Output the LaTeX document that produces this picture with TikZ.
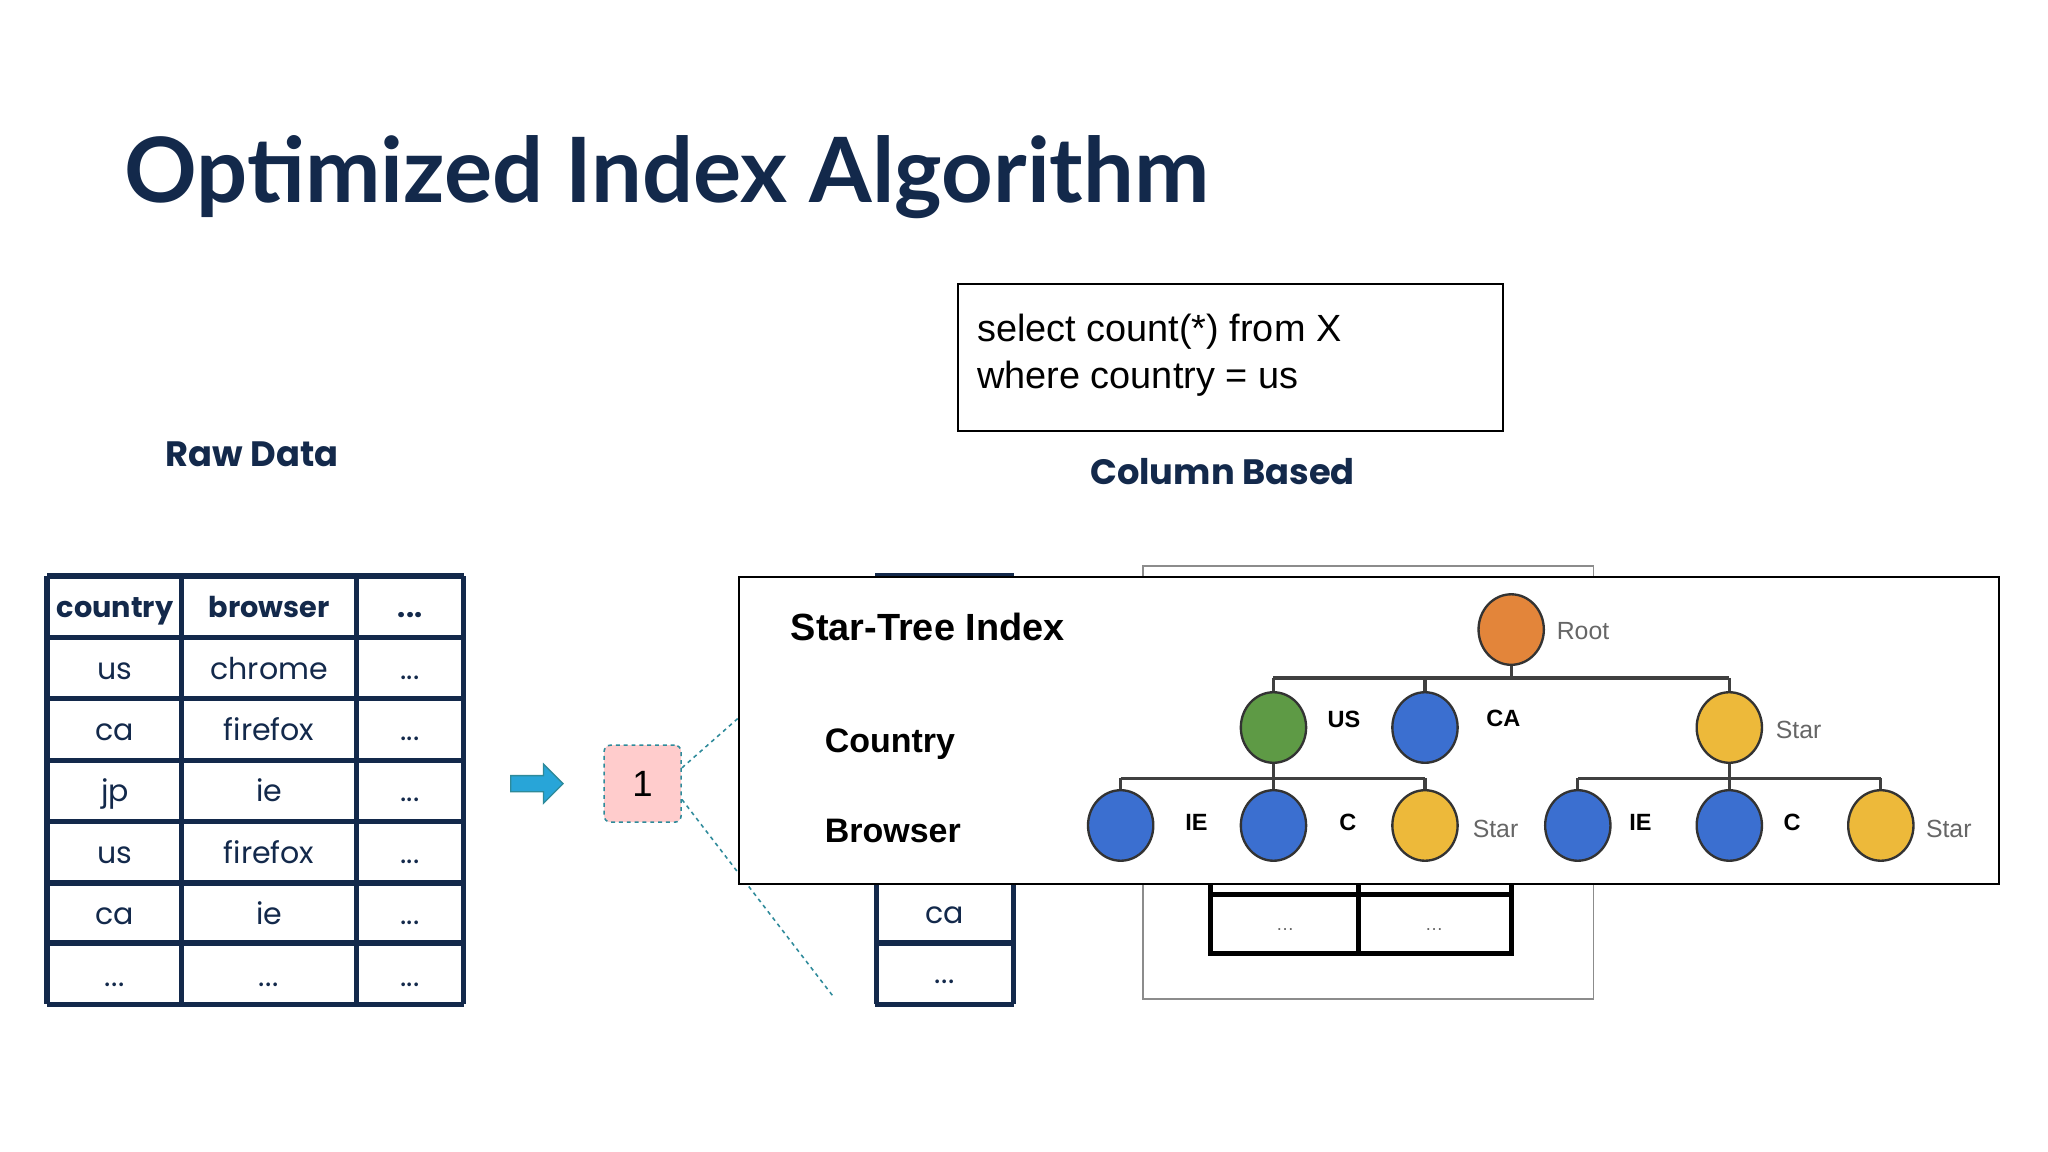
\documentclass[tikz,border=0pt]{standalone}
\usepackage{fontspec}
\setmainfont{Poppins}
\newfontfamily\latof{Lato}
\newfontfamily\arialf{Liberation Sans}
\usetikzlibrary{arrows.meta,shapes.arrows,shapes.geometric}
\definecolor{navy}{HTML}{13294B}
\definecolor{teal}{HTML}{2E8A9A}
\definecolor{torange}{HTML}{E3853A}
\definecolor{tgreen}{HTML}{5E9A45}
\definecolor{tblue}{HTML}{3B6FD0}
\definecolor{tyellow}{HTML}{EDB93A}
\newcommand{\dd}{.\kern0.5pt.\kern0.5pt.}
\begin{document}
\begin{tikzpicture}[x=1pt,y=-1pt,
 cell/.style={font=\fontsize{23}{23}\selectfont,text=navy,anchor=base},
 head/.style={font=\bfseries\fontsize{22}{22}\selectfont,text=navy,anchor=base},
 tnode/.style={ellipse,draw=black!80,line width=1.8pt,minimum width=50pt,minimum height=54pt,inner sep=0},
 tlab/.style={font=\arialf\bfseries\fontsize{18}{18}\selectfont,anchor=center},
 glab/.style={font=\arialf\fontsize{19}{19}\selectfont,text=black!60,anchor=center},
 lvl/.style={font=\arialf\bfseries\fontsize{26}{26}\selectfont,anchor=west},
 bar/.style={line width=2.5pt,black!75}]
\useasboundingbox (0,0) rectangle (1568,882);
\node[anchor=base west,inner sep=0,font=\latof\bfseries\fontsize{69}{69}\selectfont,text=navy] (title) at (95,155) {Optimized Index Algorithm};
\node[font=\bfseries\fontsize{27}{27}\selectfont,text=navy] (raw) at (193,348) {Raw Data};
% raw table
\foreach \y in {441,488,535,582,629,676,722,769} \draw[navy,line width=4pt] (36,\y) -- (355,\y);
\foreach \x in {36,139,273,355} \draw[navy,line width=4pt] (\x,441) -- (\x,769);
\node[head] (h1) at (88,473) {country};
\node[head] (h2) at (206,473) {browser};
\node[head] (h3) at (314,473) {\dd};
\foreach \a/\b [count=\i] in {us/chrome,ca/firefox,jp/ie,us/firefox,ca/ie,\dd/\dd}{
 \pgfmathsetmacro\yy{520+47*(\i-1)}
 \node[cell] (r\i a) at (88,\yy) {\a};
 \node[cell] (r\i b) at (206,\yy) {\b};
 \node[cell] (r\i c) at (314,\yy) {\dd};
}
\node[single arrow,fill=cyan!70!teal,draw=teal,line width=1pt,minimum height=40pt,minimum width=30pt,single arrow head extend=5pt,inner sep=3pt] (arr) at (408,600) {};
\node[draw=teal,dashed,line width=1.2pt,fill=red!20!white,rounded corners=5pt,minimum width=59pt,minimum height=59pt,font=\arialf\fontsize{28}{28}\selectfont] (one) at (492,600) {1};
\coordinate (d1) at (565,550);
\coordinate (d2) at (638,763);
\draw[teal,dashed,line width=1.2pt] (one.north east) ++(0,18) -- (d1);
\draw[teal,dashed,line width=1.2pt] (one.south east) ++(0,-18) -- (d2);
% column table behind
\draw[navy,line width=4pt] (670,441) -- (776,441);
\draw[navy,line width=4pt] (671,676) -- (671,769) (776,676) -- (776,769) (670,722) -- (776,722) (670,769) -- (776,769);
\node[cell] (cca) at (723,707) {ca};
\node[cell] (cdots) at (723,753) {\dd};
\draw[black!45,line width=1.5pt] (875,441) -- (875,765) -- (1220,765) -- (1220,441);
\draw[black!45,line width=1.5pt] (875,441) -- (875,433) -- (1220,433) -- (1220,441);
\draw[black,line width=4pt] (927,685) -- (1157,685) (927,676) -- (927,730) -- (1157,730) -- (1157,676) (1040,676) -- (1040,730);
\node[font=\arialf\fontsize{14}{14}\selectfont,text=black!60] (e1) at (984,712) {\dd};
\node[font=\arialf\fontsize{14}{14}\selectfont,text=black!60] (e2) at (1098,712) {\dd};
% query
\node[draw=black,line width=1.5pt,minimum width=417pt,minimum height=112pt,anchor=north west] (q) at (733,217) {};
\node[anchor=north west,align=left,font=\arialf\fontsize{29}{36}\selectfont,inner sep=0] (qt) at (748,240) {select count(*) from X\\where country = us};
\node[font=\bfseries\fontsize{27}{27}\selectfont,text=navy] (colb) at (936,361) {Column Based};
% star tree box
\node[draw=black,line width=1.5pt,fill=white,minimum width=965pt,minimum height=235pt,anchor=north west] (st) at (565,441) {};
\node[anchor=west,font=\arialf\bfseries\fontsize{29}{29}\selectfont] (stt) at (602,480) {Star-Tree Index};
\node[lvl] (lc) at (628,570) {Country};
\node[lvl] (lb) at (628,636) {Browser};
\draw[bar] (1157,482) -- (1157,519) (975,519) -- (1324,519) (975,519) -- (975,557) (1091,519) -- (1091,557) (1324,519) -- (1324,557);
\draw[bar] (858,596) -- (1091,596) (858,596) -- (858,632) (975,557) -- (975,632) (1091,596) -- (1091,632);
\draw[bar] (1208,596) -- (1440,596) (1208,596) -- (1208,632) (1324,557) -- (1324,632) (1440,596) -- (1440,632);
\node[tnode,fill=torange] (root) at (1157,482) {};
\node[tnode,fill=tgreen] (us) at (975,557) {};
\node[tnode,fill=tblue] (ca) at (1091,557) {};
\node[tnode,fill=tyellow] (cs) at (1324,557) {};
\node[tnode,fill=tblue] (b1) at (858,632) {};
\node[tnode,fill=tblue] (b2) at (975,632) {};
\node[tnode,fill=tyellow] (b3) at (1091,632) {};
\node[tnode,fill=tblue] (b4) at (1208,632) {};
\node[tnode,fill=tblue] (b5) at (1324,632) {};
\node[tnode,fill=tyellow] (b6) at (1440,632) {};
\node[glab] (lroot) at (1212,483) {Root};
\node[tlab] (lus) at (1029,551) {US};
\node[tlab] (lca) at (1151,550) {CA};
\node[glab] (lcs) at (1377,559) {Star};
\node[tlab] (l1) at (916,630) {IE};
\node[tlab] (l2) at (1032,630) {C};
\node[glab] (l3) at (1145,635) {Star};
\node[tlab] (l4) at (1256,630) {IE};
\node[tlab] (l5) at (1372,630) {C};
\node[glab] (l6) at (1492,635) {Star};
\end{tikzpicture}
\end{document}
